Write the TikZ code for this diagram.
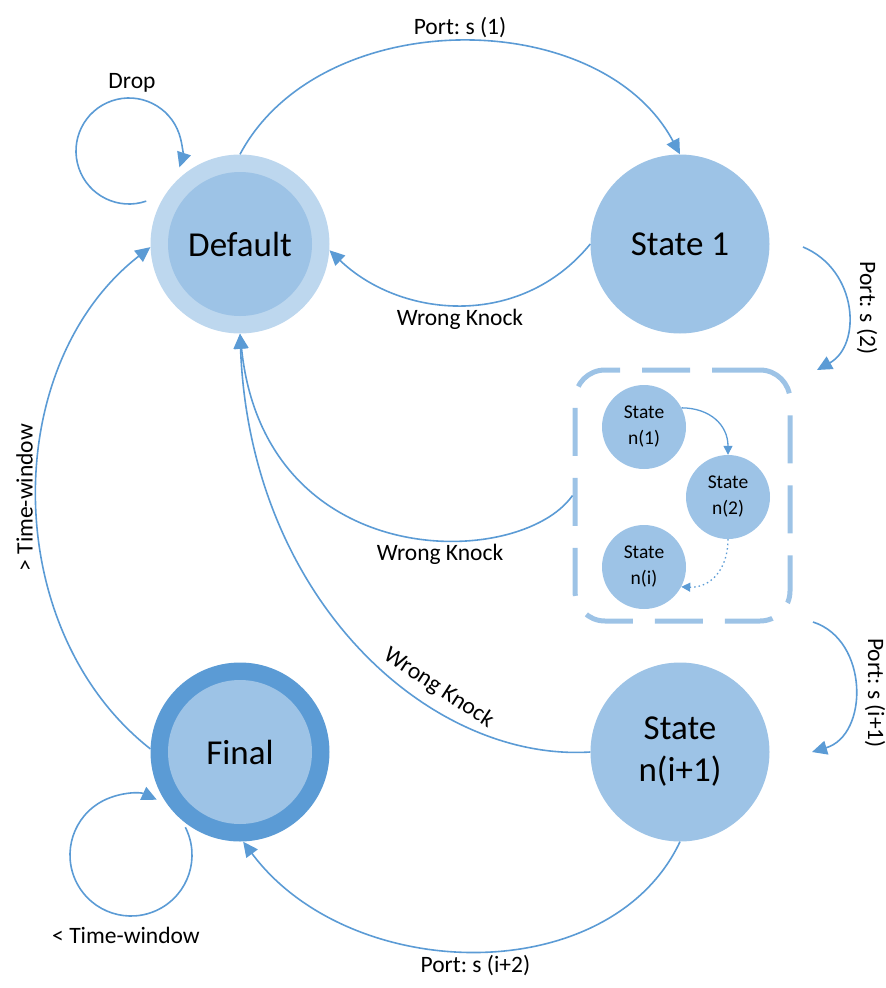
\documentclass[tikz,border=0pt]{standalone}
\usepackage{fontspec}
\setmainfont{Carlito}
\frenchspacing
\usetikzlibrary{arrows.meta}
\definecolor{edgeblue}{HTML}{5B9BD5}
\definecolor{statefill}{HTML}{9DC3E6}
\definecolor{ringlight}{HTML}{BDD7EE}
\tikzset{%
  bigstate/.style={circle,fill=statefill,minimum size=179pt,inner sep=0pt,align=center,font=\fontsize{35}{42}\selectfont},
  ringed/.style={bigstate,fill=#1,path picture={\fill[statefill] (path picture bounding box.center) circle (72pt);}},
  substate/.style={circle,fill=statefill,minimum size=84pt,inner sep=0pt,align=center,font=\fontsize{19.5}{26}\selectfont},
  groupbox/.style={draw=statefill,line width=5pt,rounded corners=30pt,dash pattern=on 48pt off 22pt,minimum width=215pt,minimum height=251pt},
  trans/.style={draw=edgeblue,line width=1.6pt,-{Triangle[length=15pt,width=14pt]}},
  subtrans/.style={draw=edgeblue,line width=1.3pt,-{Triangle[length=9pt,width=9pt]}},
  lbl/.style={font=\fontsize{23.5}{28}\selectfont}
}

\begin{document}
\begin{tikzpicture}[x=1pt,y=1pt]
  \useasboundingbox (0,0) rectangle (886,-988);
  % main states
  \node[ringed=ringlight] (default) at (240,-244) {Default};
  \node[bigstate] (state1) at (680,-244) {State 1};
  \node[bigstate] (statei1) at (680,-752) {State\\n(i+1)};
  \node[ringed=edgeblue] (final) at (240,-752) {Final};
  % group of intermediate states
  \node[groupbox] (group) at (682.5,-495.5) {};
  \node[substate] (n1) at (644,-427) {State\\n(1)};
  \node[substate] (n2) at (728,-497) {State\\n(2)};
  \node[substate] (ni) at (644,-567) {State\\n(i)};
  \draw[subtrans] (n1.27) .. controls (710,-408) and (728,-425) .. (n2.north);
  \draw[subtrans,dash pattern=on 1.5pt off 3pt] (n2.south) .. controls (728,-570) and (710,-588) .. (ni.-28);
  % transitions
  \draw[trans] (default.90) .. controls (320,-4) and (600,-4) .. node (port1) [lbl,above] {Port: s (1)} (state1.90);
  \draw[trans] (state1.180) .. controls (520,-330) and (400,-318) .. node (wk1) [lbl,below] {Wrong Knock} (default.-4);
  \draw[trans] (group.west) .. controls (520,-570) and (265,-575) .. node (wk2) [lbl,below,pos=0.4] {Wrong Knock} (default.south);
  \draw[trans] (statei1.180) .. controls (430,-762) and (250,-600) .. node (wk3) [lbl,sloped,above=6pt,pos=0.34] {Wrong Knock} (default.south);
  \draw[trans] (final.178) .. controls (-1,-630) and (-1,-365) .. node (tw1) [lbl,sloped,above] {> Time-window} (default.182);
  \draw[trans] (statei1.-90) .. controls (610,-990) and (350,-985) .. node (port4) [lbl,below] {Port: s (i+2)} (final.-88);
  % side transitions between blocks
  \coordinate (p2s) at (803,-247);
  \coordinate (p2e) at (817,-370);
  \draw[trans] (p2s) .. controls (858,-270) and (862,-345) .. (p2e);
  \node[lbl,rotate=-90] (port2) at (867,-308) {Port: s (2)};
  \coordinate (p3s) at (813,-622);
  \coordinate (p3e) at (812,-752);
  \draw[trans] (p3s) .. controls (869,-640) and (869,-735) .. (p3e);
  \node[lbl,rotate=-90] (port3) at (875,-693) {Port: s (i+1)};
  % self loops
  \coordinate (dropc) at (129,-151);
  \draw[trans] (dropc) ++(289:53) arc[start angle=289,end angle=-18,radius=53];
  \node[lbl] (drop) at (132,-83) {Drop};
  \coordinate (waitc) at (131,-855);
  \draw[trans] (waitc) ++(27:61) arc[start angle=27,end angle=-295,radius=61];
  \node[lbl] (tw2) at (126,-935) {< Time-window};
\end{tikzpicture}
\end{document}
